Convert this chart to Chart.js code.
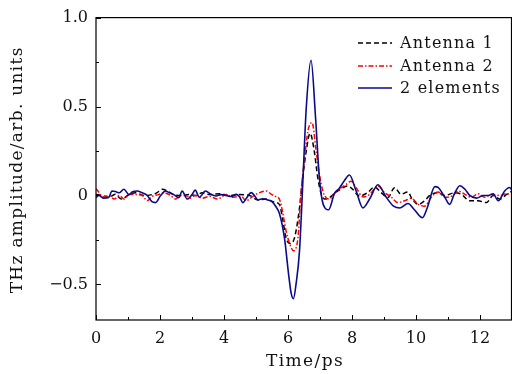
<!DOCTYPE html>
<html>
<head>
<meta charset="utf-8">
<script src="https://cdn.jsdelivr.net/npm/chart.js@4/dist/chart.umd.min.js"></script>
<style>
html,body{margin:0;padding:0;background:#fff;}
canvas{display:block;}
</style>
</head>
<body>
<canvas id="c" width="512" height="374"></canvas>
<script>
// ---- Data ----
const seriesNames = ['Antenna 1', 'Antenna 2', '2 elements'];

const a1Time = [0,0.2,0.4,0.6,0.8,1.03,1.24,1.5,1.75,1.9,2.07,2.23,2.43,2.69,2.9,3.1,3.32,3.55,3.86,4.17,4.48,4.8,5.06,5.32,5.53,5.73,5.84,5.94,6.08,6.2,6.36,6.46,6.57,6.69,6.82,6.93,7.04,7.14,7.3,7.45,7.6,7.87,8.02,8.23,8.49,8.7,8.91,9.12,9.33,9.53,9.74,9.88,10.07,10.27,10.43,10.69,10.9,11.21,11.42,11.68,11.94,12.2,12.41,12.62,12.83,13.0];
const a1Val  = [0.005,0.0,-0.012,0.007,-0.02,0.005,0.015,0.0,0.005,0.015,0.035,0.025,0.005,0.0,0.005,0.0,0.015,0.005,0.01,0.0,0.005,0.0,-0.025,-0.02,-0.035,-0.05,-0.14,-0.24,-0.27,-0.24,-0.07,0.1,0.25,0.35,0.25,0.1,0.008,-0.02,-0.012,0.012,0.03,0.053,0.035,-0.003,0.016,0.048,0.016,-0.012,0.044,0.007,0.02,-0.02,-0.05,-0.03,0.0,0.015,0.0,0.015,0.006,-0.03,-0.03,-0.04,0.0,-0.02,0.006,0.025];

const a2Time = [0,0.1,0.2,0.4,0.57,0.73,0.88,1.03,1.24,1.45,1.6,1.75,1.96,2.12,2.33,2.48,2.65,2.8,2.95,3.1,3.32,3.55,3.8,4.07,4.28,4.54,4.69,4.9,5.11,5.32,5.47,5.6,5.73,5.84,5.94,6.05,6.17,6.31,6.41,6.52,6.62,6.75,6.88,6.98,7.09,7.19,7.3,7.45,7.6,7.82,7.97,8.13,8.34,8.55,8.81,9.02,9.22,9.43,9.64,9.85,10.07,10.27,10.48,10.69,10.9,11.16,11.32,11.53,11.73,11.94,12.15,12.36,12.62,12.83,13.0];
const a2Val  = [0.038,0.016,-0.007,0.0,-0.02,0.0,-0.02,0.005,0.005,0.0,-0.03,-0.005,0.005,0.015,0.0,-0.02,0.0,0.0,-0.015,0.0,-0.015,-0.005,-0.02,0.005,-0.01,-0.005,-0.03,-0.005,0.016,0.025,0.008,-0.005,-0.02,-0.1,-0.2,-0.27,-0.31,-0.24,0.025,0.21,0.36,0.41,0.25,0.12,0.025,-0.012,-0.02,0.012,0.035,0.063,0.08,0.044,-0.008,0.006,0.053,0.016,-0.008,-0.04,-0.03,-0.016,-0.05,-0.06,-0.01,0.02,-0.01,0.0,0.025,0.006,-0.01,0.01,-0.01,0.006,0.0,0.01,0.005];

const elTime = [0,0.09,0.24,0.4,0.5,0.61,0.73,0.87,1.03,1.13,1.29,1.44,1.6,1.75,1.86,2.02,2.17,2.3,2.43,2.59,2.69,2.85,3.0,3.1,3.23,3.42,3.6,3.75,3.91,4.07,4.22,4.38,4.48,4.59,4.69,4.85,4.95,5.06,5.21,5.37,5.5,5.63,5.73,5.89,6.03,6.1,6.17,6.25,6.36,6.46,6.57,6.72,6.86,6.98,7.1,7.27,7.45,7.6,7.75,7.92,8.13,8.34,8.55,8.81,9.07,9.3,9.5,9.75,9.95,10.2,10.35,10.59,10.69,10.9,11.05,11.2,11.37,11.53,11.68,11.89,12.1,12.26,12.41,12.57,12.77,12.92,13.0];
const elVal  = [-0.012,0.0,-0.015,-0.01,0.025,0.022,0.015,0.035,0.005,0.02,0.025,0.015,0.0,-0.035,-0.04,0.0,0.025,0.015,0.005,-0.012,0.025,-0.02,0.005,0.03,-0.01,0.025,0.005,-0.003,0.005,0.0,-0.006,0.006,-0.006,-0.04,-0.018,0.016,0.0,-0.025,-0.018,-0.025,-0.035,-0.065,-0.1,-0.24,-0.46,-0.55,-0.58,-0.5,-0.31,0.06,0.49,0.76,0.44,0.1,-0.05,-0.08,0.01,0.04,0.08,0.115,0.025,-0.07,-0.02,0.06,-0.01,-0.06,-0.07,-0.045,-0.08,-0.125,-0.07,0.05,0.045,-0.01,-0.05,0.01,0.055,0.035,0.0,-0.015,0.0,0.0,0.01,-0.03,0.025,0.045,0.03];

const xMajorTicks = [0,2,4,6,8,10,12];
const xMinorTicks = [1,3,5,7,9,11,13];
const yMajorTicks = [-0.5,0,0.5,1.0];
const yTickLabels = ['\u22120.5','0','0.5','1.0'];
const yMinorTicks = [-0.25,0.25,0.75];

const xTitle = 'Time/ps';
const yTitle = 'THz amplitude/arb. units';

// ---- Chart ----
const FONT = 'DejaVu Serif';
const TEXT = '#111';
const toPts = (xs, ys) => xs.map((x, i) => ({x, y: ys[i]}));

const styles = [
  {color: '#000000', dash: [5, 3], width: 1.5},
  {color: '#ff0000', dash: [5, 2, 1.5, 2], width: 1.5},
  {color: '#0a0a8c', dash: [], width: 1.6}
];

function spacedText(ctx, txt, x, y, spacing) {
  if ('letterSpacing' in ctx) {
    ctx.letterSpacing = spacing + 'px';
    ctx.fillText(txt, x, y);
    ctx.letterSpacing = '0px';
  } else {
    ctx.fillText(txt, x, y);
  }
}

const framePlugin = {
  id: 'frame',
  afterDatasetsDraw(chart) {
    const {ctx, chartArea: a, scales: {x, y}} = chart;
    ctx.save();
    ctx.strokeStyle = '#000';
    ctx.lineWidth = 1.2;
    ctx.strokeRect(a.left, a.top, a.right - a.left - 0.5, a.bottom - a.top);
    ctx.lineWidth = 1;
    ctx.beginPath();
    xMajorTicks.forEach(v => { const p = Math.round(x.getPixelForValue(v)) + 0.5; ctx.moveTo(p, a.bottom); ctx.lineTo(p, a.bottom - 5); });
    xMinorTicks.forEach(v => { const p = Math.round(x.getPixelForValue(v)) + 0.5; ctx.moveTo(p, a.bottom); ctx.lineTo(p, a.bottom - 3); });
    yMajorTicks.forEach(v => { const p = Math.round(y.getPixelForValue(v)) + 0.5; ctx.moveTo(a.left, p); ctx.lineTo(a.left + 5, p); });
    yMinorTicks.forEach(v => { const p = Math.round(y.getPixelForValue(v)) + 0.5; ctx.moveTo(a.left, p); ctx.lineTo(a.left + 3, p); });
    ctx.stroke();
    ctx.restore();
  },
  afterDraw(chart) {
    const {ctx, chartArea: a} = chart;
    ctx.save();
    // axis titles
    ctx.fillStyle = TEXT;
    ctx.font = '17px "' + FONT + '"';
    ctx.textAlign = 'center';
    ctx.textBaseline = 'middle';
    spacedText(ctx, xTitle, (a.left + a.right) / 2 + 1, 362, 1.4);
    ctx.save();
    ctx.translate(18, (a.top + a.bottom) / 2 + 1);
    ctx.rotate(-Math.PI / 2);
    spacedText(ctx, yTitle, 0, 0, 1.3);
    ctx.restore();
    // legend
    const x0 = 358, x1 = 392, tx = 400, ys = [43, 66, 88];
    chart.data.datasets.forEach((ds, i) => {
      const st = styles[i];
      ctx.strokeStyle = st.color;
      ctx.lineWidth = st.width;
      ctx.setLineDash(st.dash);
      ctx.beginPath();
      ctx.moveTo(x0, ys[i]);
      ctx.lineTo(x1, ys[i]);
      ctx.stroke();
      ctx.setLineDash([]);
      ctx.fillStyle = TEXT;
      ctx.font = '16px "' + FONT + '"';
      ctx.textBaseline = 'middle';
      ctx.textAlign = 'left';
      spacedText(ctx, ds.label, tx, ys[i] + 1, 1.2);
    });
    ctx.restore();
  }
};

const datasets = [
  {label: seriesNames[0], data: toPts(a1Time, a1Val), order: 2},
  {label: seriesNames[1], data: toPts(a2Time, a2Val), order: 1},
  {label: seriesNames[2], data: toPts(elTime, elVal), order: 0}
].map((d, i) => Object.assign(d, {
  borderColor: styles[i].color,
  borderWidth: styles[i].width,
  borderDash: styles[i].dash,
  pointRadius: 0,
  fill: false,
  cubicInterpolationMode: 'monotone'
}));

new Chart(document.getElementById('c'), {
  type: 'line',
  data: {datasets},
  options: {
    responsive: false,
    devicePixelRatio: 1,
    animation: false,
    events: [],
    layout: {padding: {top: 16, right: 0, left: 0, bottom: 0}},
    plugins: {legend: {display: false}, tooltip: {enabled: false}},
    scales: {
      x: {
        type: 'linear', min: 0, max: 13,
        afterBuildTicks: s => { s.ticks = xMajorTicks.map(v => ({value: v})); },
        afterFit: s => { s.height = 54; },
        ticks: {color: TEXT, font: {family: FONT, size: 16}, padding: 9, maxRotation: 0,
                callback: v => String(v)},
        grid: {display: false, drawTicks: false},
        border: {display: false},
        title: {display: false}
      },
      y: {
        type: 'linear', min: -0.7, max: 1.0,
        afterBuildTicks: s => { s.ticks = yMajorTicks.map(v => ({value: v})); },
        afterFit: s => { s.width = 96; },
        ticks: {color: TEXT, font: {family: FONT, size: 16}, padding: 8,
                callback: v => yTickLabels[yMajorTicks.indexOf(v)]},
        grid: {display: false, drawTicks: false},
        border: {display: false},
        title: {display: false}
      }
    }
  },
  plugins: [framePlugin]
});
</script>
</body>
</html>
